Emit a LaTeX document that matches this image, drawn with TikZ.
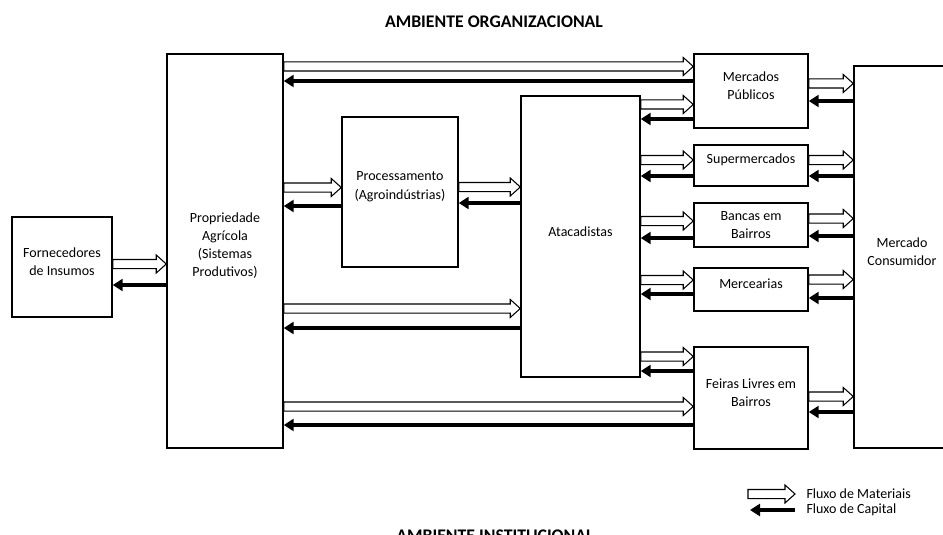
\documentclass[tikz,border=0pt]{standalone}
\usepackage{fontspec}
\setmainfont{Carlito}
\usetikzlibrary{arrows.meta,calc}

\tikzset{every picture/.style={line width=0.75pt}}
\tikzset{
  caixa/.style={draw, line width=1.1pt, inner sep=0pt},
  rotulo/.style={align=center, inner sep=0pt, font=\fontsize{10.5}{13.7}\selectfont},
  titulo/.style={inner sep=0pt, font=\fontsize{13.3}{15}\selectfont\bfseries},
  legenda/.style={anchor=west, inner sep=0pt, font=\fontsize{10.5}{12}\selectfont},
  % open block arrow for the flow of materials
  matflow/.style={draw, line width=0.8pt, to path={
    let \p1=(\tikztostart), \p2=(\tikztotarget) in
    (\x1,\y1+3.4pt) -- (\x2-7.5pt,\y1+3.4pt) -- (\x2-7.5pt,\y1+6.75pt) -- (\x2,\y1)
    -- (\x2-7.5pt,\y1-6.75pt) -- (\x2-7.5pt,\y1-3.4pt) -- (\x1,\y1-3.4pt) -- cycle}},
  % thick arrow for the flow of capital
  capflow/.style={draw, line width=2.6pt, -{Triangle[length=7.5pt,width=9pt]}}
}

\begin{document}
\begin{tikzpicture}[x=0.75pt,y=0.75pt,yscale=-1,xscale=1]
\useasboundingbox (0,0) rectangle (943,535);

%Shape: Rectangle [Fornecedores]
\node[caixa, minimum width=75pt, minimum height=75pt] (forn) at (62,267) {};
%Shape: Rectangle [Propriedade]
\node[caixa, minimum width=87pt, minimum height=295.5pt] (prop) at (225,251) {};
%Shape: Rectangle [Processamento]
\node[caixa, minimum width=87pt, minimum height=112.5pt] (proc) at (400,192) {};
%Shape: Rectangle [Atacadistas]
\node[caixa, minimum width=89.25pt, minimum height=210.75pt] (atac) at (580.5,236.5) {};
%Shape: Rectangle [Mercados Publicos]
\node[caixa, minimum width=85.5pt, minimum height=55.5pt] (mpub) at (751,91) {};
%Shape: Rectangle [Supermercados]
\node[caixa, minimum width=85.5pt, minimum height=30.75pt] (super) at (751,165.5) {};
%Shape: Rectangle [Bancas]
\node[caixa, minimum width=85.5pt, minimum height=33pt] (bancas) at (751,225) {};
%Shape: Rectangle [Mercearias]
\node[caixa, minimum width=85.5pt, minimum height=32.25pt] (merc) at (751,289.5) {};
%Shape: Rectangle [Feiras]
\node[caixa, minimum width=85.5pt, minimum height=76.5pt] (feiras) at (751,398) {};
%Shape: Rectangle [Mercado Consumidor]
\node[caixa, minimum width=72pt, minimum height=286.5pt] (cons) at (902,257) {};

% Text Node
\node[rotulo] (forn-t) at ([yshift=-4pt]forn.center) {Fornecedores\\de Insumos};
% Text Node
\node[rotulo] (prop-t) at ([yshift=-4pt]prop.center) {Propriedade\\Agrícola\\(Sistemas\\Produtivos)};
% Text Node
\node[rotulo] (proc-t) at ([yshift=-4pt]proc.center) {Processamento\\(Agroindústrias)};
% Text Node
\node[rotulo] (atac-t) at ([yshift=-3.5pt]atac.center) {Atacadistas};
% Text Node
\node[rotulo] (mpub-t) at ([yshift=-4pt]mpub.center) {Mercados\\Públicos};
% Text Node
\node[rotulo] (super-t) at ([yshift=-4pt]super.center) {Supermercados};
% Text Node
\node[rotulo] (bancas-t) at ([yshift=0pt]bancas.center) {Bancas em\\Bairros};
% Text Node
\node[rotulo] (merc-t) at ([yshift=-4.5pt]merc.center) {Mercearias};
% Text Node
\node[rotulo] (feiras-t) at ([yshift=-4pt]feiras.center) {Feiras Livres em\\Bairros};
% Text Node
\node[rotulo] (cons-t) at ([yshift=-4pt]cons.center) {Mercado\\Consumidor};

%Arrows: Fornecedores - Propriedade
\draw[matflow] (forn.east |- 0,264) to (prop.west |- 0,264);
\draw[capflow] (prop.west |- 0,285) -- (forn.east |- 0,285);
%Arrows: Propriedade - Mercados Publicos
\draw[matflow] (prop.east |- 0,66.5) to (mpub.west |- 0,66.5);
\draw[capflow] (mpub.west |- 0,81) -- (prop.east |- 0,81);
%Arrows: Propriedade - Processamento
\draw[matflow] (prop.east |- 0,187.5) to (proc.west |- 0,187.5);
\draw[capflow] (proc.west |- 0,206) -- (prop.east |- 0,206);
%Arrows: Processamento - Atacadistas
\draw[matflow] (proc.east |- 0,187) to (atac.west |- 0,187);
\draw[capflow] (atac.west |- 0,203) -- (proc.east |- 0,203);
%Arrows: Propriedade - Atacadistas
\draw[matflow] (prop.east |- 0,308.5) to (atac.west |- 0,308.5);
\draw[capflow] (atac.west |- 0,328) -- (prop.east |- 0,328);
%Arrows: Propriedade - Feiras
\draw[matflow] (prop.east |- 0,406.5) to (feiras.west |- 0,406.5);
\draw[capflow] (feiras.west |- 0,425) -- (prop.east |- 0,425);

%Arrows: Atacadistas - Mercados Publicos
\draw[matflow] (atac.east |- 0,104.5) to (mpub.west |- 0,104.5);
\draw[capflow] (mpub.west |- 0,119) -- (atac.east |- 0,119);
%Arrows: Atacadistas - Supermercados
\draw[matflow] (atac.east |- 0,160) to (super.west |- 0,160);
\draw[capflow] (super.west |- 0,176) -- (atac.east |- 0,176);
%Arrows: Atacadistas - Bancas
\draw[matflow] (atac.east |- 0,221) to (bancas.west |- 0,221);
\draw[capflow] (bancas.west |- 0,238) -- (atac.east |- 0,238);
%Arrows: Atacadistas - Mercearias
\draw[matflow] (atac.east |- 0,280) to (merc.west |- 0,280);
\draw[capflow] (merc.west |- 0,294) -- (atac.east |- 0,294);
%Arrows: Atacadistas - Feiras
\draw[matflow] (atac.east |- 0,356.5) to (feiras.west |- 0,356.5);
\draw[capflow] (feiras.west |- 0,371) -- (atac.east |- 0,371);

%Arrows: varejo - Mercado Consumidor
\draw[matflow] (mpub.east |- 0,83.5) to (cons.west |- 0,83.5);
\draw[capflow] (cons.west |- 0,101) -- (mpub.east |- 0,101);
\draw[matflow] (super.east |- 0,160) to (cons.west |- 0,160);
\draw[capflow] (cons.west |- 0,176) -- (super.east |- 0,176);
\draw[matflow] (bancas.east |- 0,218.5) to (cons.west |- 0,218.5);
\draw[capflow] (cons.west |- 0,236) -- (bancas.east |- 0,236);
\draw[matflow] (merc.east |- 0,279.5) to (cons.west |- 0,279.5);
\draw[capflow] (cons.west |- 0,298) -- (merc.east |- 0,298);
\draw[matflow] (feiras.east |- 0,396.5) to (cons.west |- 0,396.5);
\draw[capflow] (cons.west |- 0,412) -- (feiras.east |- 0,412);

% Titles
\node[titulo] (amb-org) at (494,21.5) {AMBIENTE ORGANIZACIONAL};
\node[titulo, anchor=north] (amb-inst) at (495,529) {AMBIENTE INSTITUCIONAL};

% Legend
\coordinate (legmat-a) at (748,494);
\coordinate (legmat-b) at (795,494);
\coordinate (legcap-a) at (795,510);
\coordinate (legcap-b) at (750,510);
\draw[matflow] (legmat-a) to (legmat-b);
\draw[capflow] (legcap-a) -- (legcap-b);
\node[legenda] (leg-mat) at (806,494) {Fluxo de Materiais};
\node[legenda] (leg-cap) at (806,510) {Fluxo de Capital};

\end{tikzpicture}
\end{document}
